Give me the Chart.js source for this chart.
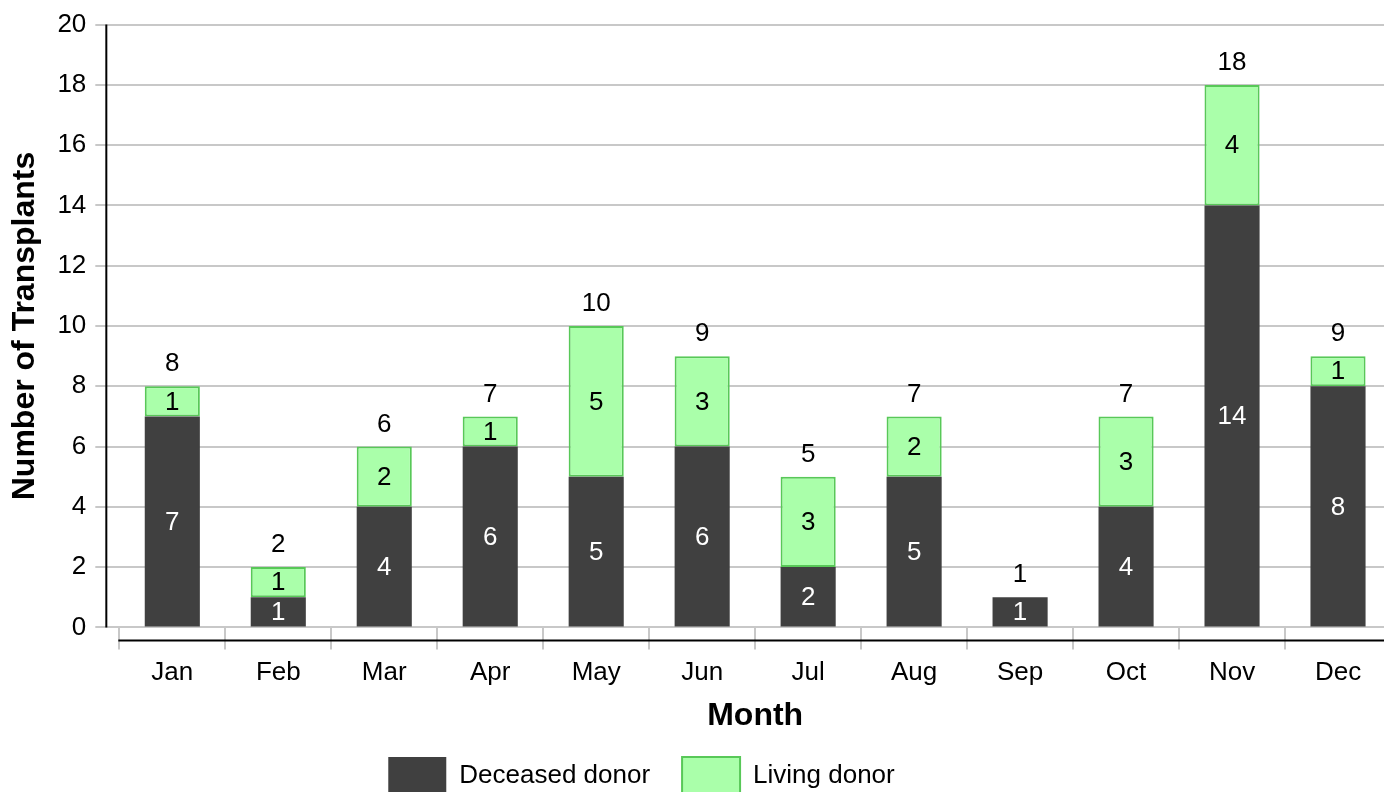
<!DOCTYPE html>
<html>
<head>
<meta charset="utf-8">
<script src="https://cdn.jsdelivr.net/npm/chart.js@4.4.1/dist/chart.umd.min.js"></script>
<style>
  html, body { margin: 0; padding: 0; overflow: hidden; background: #fff; }
  #wrap { width: 1384px; height: 792px; overflow: hidden; }
  canvas { display: block; }
</style>
</head>
<body>
<div id="wrap"><canvas id="c" width="1392" height="815"></canvas></div>
<script>
const months = ['Jan','Feb','Mar','Apr','May','Jun','Jul','Aug','Sep','Oct','Nov','Dec'];
const deceasedDonor = [7, 1, 4, 6, 5, 6, 2, 5, 1, 4, 14, 8];
const livingDonor   = [1, 1, 2, 1, 5, 3, 3, 2, 0, 3, 4, 1];
const seriesNames = ['Deceased donor', 'Living donor'];
const yTickMin = 0, yTickMax = 20, yTickStep = 2;
const xTitle = 'Month';
const yTitle = 'Number of Transplants';

const FONT = 'Liberation Sans, Arial, Helvetica, sans-serif';
Chart.defaults.font.family = FONT;
Chart.defaults.color = '#000';

const labelPlugin = {
  id: 'labels',
  afterDatasetsDraw(chart) {
    const ctx = chart.ctx;
    ctx.save();
    ctx.font = '26px ' + FONT;
    ctx.textAlign = 'center';
    ctx.textBaseline = 'middle';
    chart.data.datasets.forEach((ds, di) => {
      const meta = chart.getDatasetMeta(di);
      meta.data.forEach((el, i) => {
        const v = ds.data[i];
        if (!v) return;
        ctx.fillStyle = di === 0 ? '#ffffff' : '#000000';
        ctx.fillText(String(v), el.x, (el.y + el.base) / 2 + 1);
      });
    });
    const last = chart.getDatasetMeta(chart.data.datasets.length - 1);
    ctx.fillStyle = '#000';
    last.data.forEach((el, i) => {
      const total = chart.data.datasets.reduce((s, d) => s + d.data[i], 0);
      ctx.fillText(String(total), el.x, el.y - 22);
    });
    ctx.restore();
  },
  afterDraw(chart) {
    const ctx = chart.ctx;
    const a = chart.chartArea;
    ctx.save();
    ctx.strokeStyle = '#000';
    ctx.lineWidth = 2;
    ctx.beginPath();
    ctx.moveTo(a.left - 13, a.top);
    ctx.lineTo(a.left - 13, a.bottom);
    ctx.stroke();
    ctx.beginPath();
    ctx.moveTo(a.left - 1, a.bottom + 13);
    ctx.lineTo(chart.width, a.bottom + 13);
    ctx.stroke();
    ctx.restore();
  },
  afterLayout(chart) {
    const lg = chart.legend;
    if (lg) {
      lg.left -= 57; lg.right -= 57;
      lg.top -= 10; lg.bottom -= 10;
    }
  }
};

new Chart(document.getElementById('c'), {
  type: 'bar',
  data: {
    labels: months,
    datasets: [
      {
        label: seriesNames[0],
        data: deceasedDonor,
        backgroundColor: '#404040',
        borderColor: '#404040',
        borderWidth: 0,
        barPercentage: 0.52,
        categoryPercentage: 1.0
      },
      {
        label: seriesNames[1],
        data: livingDonor,
        backgroundColor: '#aaffaa',
        borderColor: '#58c858',
        borderWidth: 2,
        borderSkipped: false,
        barPercentage: 0.52,
        categoryPercentage: 1.0
      }
    ]
  },
  options: {
    responsive: false,
    animation: false,
    devicePixelRatio: 1,
    layout: { padding: { top: 23, left: 6, right: 1, bottom: 0 } },
    plugins: {
      tooltip: { enabled: false },
      legend: {
        position: 'bottom',
        labels: {
          boxWidth: 58,
          boxHeight: 38,
          padding: 32,
          font: { size: 26 },
          color: '#000'
        }
      }
    },
    scales: {
      x: {
        stacked: true,
        border: { display: false },
        grid: {
          display: true,
          offset: true,
          drawOnChartArea: false,
          drawTicks: true,
          tickLength: 22,
          color: '#c8c8c8',
          lineWidth: 2
        },
        ticks: { font: { size: 26 }, color: '#000', padding: 8 },
        title: {
          display: true,
          text: xTitle,
          font: { size: 32, weight: 'bold' },
          color: '#000',
          padding: { top: 0, bottom: 0 }
        }
      },
      y: {
        stacked: true,
        min: yTickMin,
        max: yTickMax,
        border: { display: false },
        grid: {
          color: '#c8c8c8',
          lineWidth: 2,
          tickLength: 24
        },
        ticks: { stepSize: yTickStep, font: { size: 26 }, color: '#000', padding: 9 },
        title: {
          display: true,
          text: yTitle,
          font: { size: 32, weight: 'bold' },
          color: '#000',
          padding: { top: 0, bottom: 4 }
        }
      }
    }
  },
  plugins: [labelPlugin]
});
</script>
</body>
</html>
